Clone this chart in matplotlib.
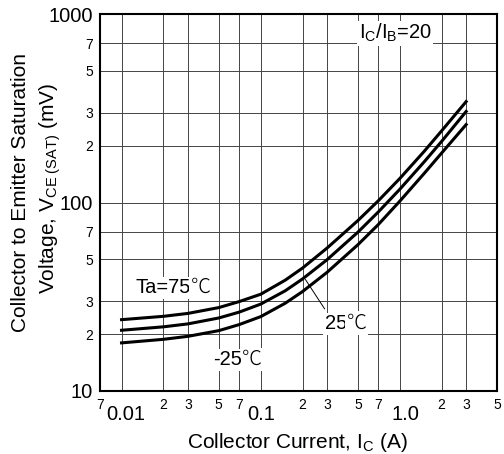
import matplotlib
matplotlib.use('Agg')
import matplotlib.pyplot as plt
from matplotlib.ticker import FixedLocator, FixedFormatter
from matplotlib.transforms import ScaledTranslation

plt.rcParams['font.family'] = ['Liberation Sans', 'Noto Sans CJK JP', 'DejaVu Sans']
plt.rcParams['mathtext.fontset'] = 'custom'
plt.rcParams['mathtext.rm'] = 'Liberation Sans'
plt.rcParams['mathtext.it'] = 'Liberation Sans:italic'

# collector current (A)
ic = [0.01, 0.02, 0.03, 0.05, 0.07, 0.1, 0.15, 0.2, 0.3, 0.5, 0.7, 1.0, 1.5, 2.0, 3.0]
# Vce(sat) in mV for each ambient temperature
v_75 = [23.9, 24.9, 25.8, 27.7, 29.8, 32.6, 38.7, 44.9, 57.3, 80.2, 102, 134, 187, 240, 343]
v_25 = [21.0, 21.9, 22.7, 24.4, 26.2, 28.9, 34.0, 39.3, 49.7, 69.6, 89.0, 117.5, 164.5, 211, 304]
v_m25 = [18.0, 18.8, 19.5, 20.9, 22.5, 24.8, 29.2, 33.7, 42.6, 59.7, 76.3, 101.6, 142.8, 183, 259]

x_major = [0.01, 0.1, 1.0]
x_major_lbl = ['0.01', '0.1', '1.0']
x_minor = [0.007, 0.02, 0.03, 0.05, 0.07, 0.2, 0.3, 0.5, 0.7, 2, 3, 5]
x_minor_lbl = ['7', '2', '3', '5', '7', '2', '3', '5', '7', '2', '3', '5']
y_major = [10, 100, 1000]
y_major_lbl = ['10', '100', '1000']
y_minor = [20, 30, 50, 70, 200, 300, 500, 700]
y_minor_lbl = ['2', '3', '5', '7', '2', '3', '5', '7']

fig = plt.figure(figsize=(5.04, 4.54), dpi=100)
ax = fig.add_axes([100 / 504, 1 - 391 / 454, 397 / 504, 377 / 454])

for v in (v_75, v_25, v_m25):
    ax.plot(ic, v, color='black', lw=2.2, solid_joinstyle='round', zorder=3)

ax.set_xscale('log')
ax.set_yscale('log')
ax.set_xlim(0.007, 5)
ax.set_ylim(10, 1000)

ax.xaxis.set_major_locator(FixedLocator(x_major))
ax.xaxis.set_major_formatter(FixedFormatter(x_major_lbl))
ax.xaxis.set_minor_locator(FixedLocator(x_minor))
ax.xaxis.set_minor_formatter(FixedFormatter(x_minor_lbl))
ax.yaxis.set_major_locator(FixedLocator(y_major))
ax.yaxis.set_major_formatter(FixedFormatter(y_major_lbl))
ax.yaxis.set_minor_locator(FixedLocator(y_minor))
ax.yaxis.set_minor_formatter(FixedFormatter(y_minor_lbl))

ax.tick_params(which='both', length=0)
ax.tick_params(axis='x', which='major', labelsize=14.5, pad=10)
ax.tick_params(axis='x', which='minor', labelsize=10, pad=5)
ax.tick_params(axis='y', which='major', labelsize=14.5, pad=5)
ax.tick_params(axis='y', which='minor', labelsize=10, pad=5)

# major x labels sit a little right of their grid lines in the original
for tick, dx in zip(ax.xaxis.get_major_ticks(), [4, 1, 6]):
    lbl = tick.label1
    lbl.set_transform(lbl.get_transform() + ScaledTranslation(dx / 100, 0, fig.dpi_scale_trans))

ax.grid(True, which='both', color='#444444', lw=0.7)
ax.set_axisbelow(True)
for s in ax.spines.values():
    s.set_linewidth(1.5)

bb = dict(facecolor='white', edgecolor='none', pad=1)
fs = 14.5


def temp_label(x, y, s):
    # number in Arial-like font, the ℃ sign from the CJK font
    t = ax.text(x, y, s, fontsize=fs, ha='left', va='baseline', bbox=bb, zorder=4)
    ax.annotate('℃', xy=(1, 0), xycoords=t, xytext=(0, 0.21 * fs),
                textcoords='offset points', ha='left', va='baseline',
                fontsize=fs, family=['Noto Sans CJK JP'], fontweight='light',
                bbox=bb, zorder=4)


temp_label(0.0125, 33.0, 'Ta=75')
temp_label(0.288, 21.3, '25')
temp_label(0.0456, 13.7, '-25')
ax.plot([0.21, 0.288], [39.0, 27.3], color='black', lw=0.7, zorder=2)

ax.text(0.93, 790, r'I$_\mathrm{C}$/I$_\mathrm{B}$=20', fontsize=fs,
        ha='center', va='center', bbox=bb, zorder=4)

fig.text(21 / 504, 1 - 193 / 454, 'Collector to Emitter Saturation', rotation=90,
         ha='center', va='center', fontsize=15)
fig.text(50 / 504, 1 - 188 / 454, r'Voltage, V$_{\mathrm{CE\ (SAT)}}$ (mV)', rotation=90,
         ha='center', va='center', fontsize=15)
fig.text(297 / 504, 1 - 448 / 454, r'Collector Current, I$_\mathrm{C}$ (A)',
         ha='center', va='baseline', fontsize=15)

fig.savefig('out.png', dpi=100)
